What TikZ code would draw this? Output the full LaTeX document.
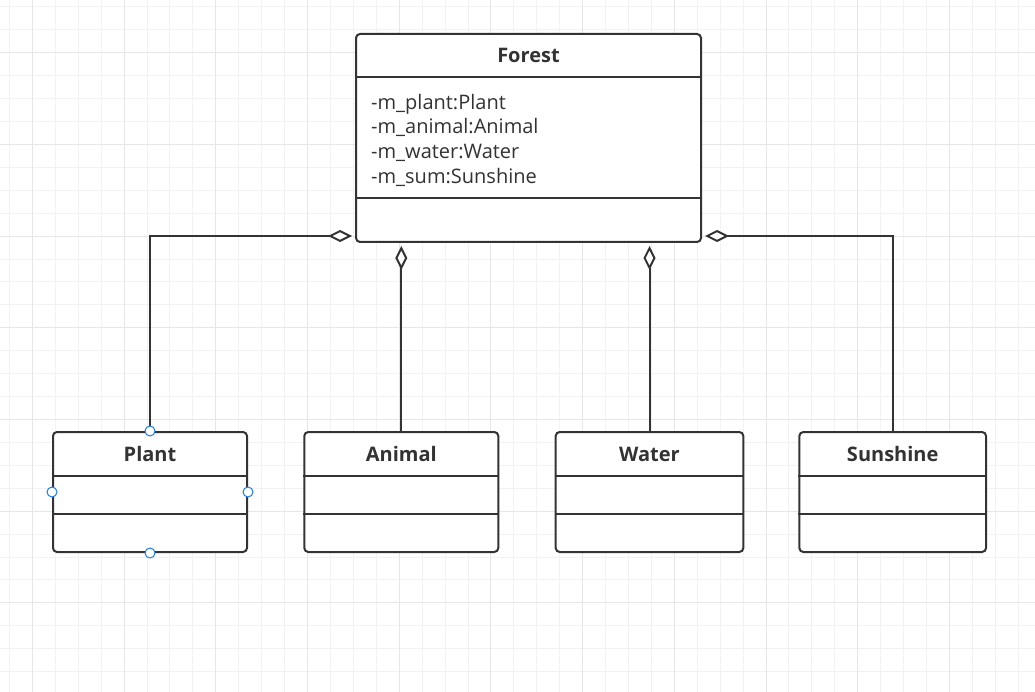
\documentclass[tikz,border=0pt]{standalone}
\usepackage{fontspec}
\setmainfont{Open Sans}
\usetikzlibrary{arrows.meta}
\definecolor{ink}{HTML}{333333}
\definecolor{gridminor}{HTML}{F2F2F2}
\definecolor{gridmajor}{HTML}{E6E6E6}
\definecolor{handle}{HTML}{1A7CF2}
\tikzset{
  classbox/.style={draw=ink, line width=2pt, rounded corners=4pt, fill=white, inner sep=0pt},
  titletext/.style={font=\bfseries\fontsize{20}{24}\selectfont, text=ink, anchor=base, inner sep=0pt},
  attrtext/.style={font=\fontsize{20}{24}\selectfont, text=ink, anchor=base west, inner sep=0pt},
  divider/.style={draw=ink, line width=2pt},
  agg/.style={draw=ink, line width=2pt, shorten >=3pt,
    -{Diamond[length=24pt,width=12pt,fill=white]}},
  handlemark/.style={draw=handle, fill=white, line width=1pt},
  minorline/.style={draw=gridminor, line width=1pt},
  majorline/.style={draw=gridmajor, line width=1pt}
}
\begin{document}
\begin{tikzpicture}[x=1pt,y=-1pt]
\fill[white] (0,0) rectangle (1035,692);
\useasboundingbox (0,0) rectangle (1035,692);
% grid
\foreach \k in {0,...,45} {
  \draw[minorline] ({9.5+\k*22.925},0) -- ({9.5+\k*22.925},692);
}
\foreach \k in {0,...,30} {
  \draw[minorline] (0,{6.85+\k*22.925}) -- (1035,{6.85+\k*22.925});
}
\foreach \k in {0,...,11} {
  \draw[majorline] ({32.4+\k*91.7},0) -- ({32.4+\k*91.7},692);
}
\foreach \k in {0,...,7} {
  \draw[majorline] (0,{52.7+\k*91.7}) -- (1035,{52.7+\k*91.7});
}
% Forest class
\node[classbox, minimum width=345pt, minimum height=208pt] (forest) at (528.5,138) {};
\draw[divider] ([yshift=-44.5pt]forest.north west) -- ([yshift=-44.5pt]forest.north east);
\draw[divider] ([yshift=45pt]forest.south west) -- ([yshift=45pt]forest.south east);
\node[titletext] (forestT) at ([yshift=-30pt]forest.north) {Forest};
\node[attrtext] (a1) at (371,109.3) {-m\_plant:Plant};
\node[attrtext] (a2) at (371,134.0) {-m\_animal:Animal};
\node[attrtext] (a3) at (371,158.7) {-m\_water:Water};
\node[attrtext] (a4) at (371,183.4) {-m\_sum:Sunshine};
% small classes
\foreach \n/\x/\w/\t in {plant/150/194/Plant, animal/401.3/194/Animal, water/649.5/187.6/Water, sunshine/892.7/186.7/Sunshine} {
  \node[classbox, minimum width=\w pt, minimum height=120pt] (\n) at (\x,492) {};
  \draw[divider] ([yshift=-45pt]\n.north west) -- ([yshift=-45pt]\n.north east);
  \draw[divider] ([yshift=-82.5pt]\n.north west) -- ([yshift=-82.5pt]\n.north east);
  \node[titletext] (\n T) at ([yshift=-30pt]\n.north) {\t};
}
% aggregations
\coordinate (fl) at ([yshift=7pt]forest.south west);
\coordinate (fr) at ([yshift=7pt]forest.south east);
\draw[agg] (plant.north) |- (fl);
\draw[agg] (sunshine.north) |- (fr);
\draw[agg] (animal.north) -- (animal.north |- forest.south);
\draw[agg] (water.north) -- (water.north |- forest.south);
% selection handles on Plant
\draw[handlemark] (plant.north) circle (5pt);
\draw[handlemark] (plant.south) circle (5pt);
\draw[handlemark] (plant.west) circle (5pt);
\draw[handlemark] (plant.east) circle (5pt);
\end{tikzpicture}
\end{document}
